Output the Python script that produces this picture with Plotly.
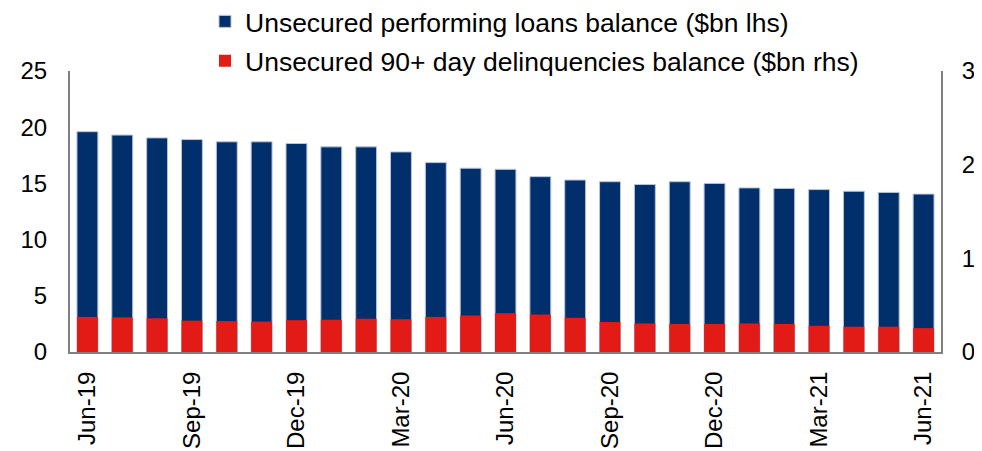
import plotly.graph_objects as go

months = ["Jun-19", "Jul-19", "Aug-19", "Sep-19", "Oct-19", "Nov-19", "Dec-19",
          "Jan-20", "Feb-20", "Mar-20", "Apr-20", "May-20", "Jun-20", "Jul-20",
          "Aug-20", "Sep-20", "Oct-20", "Nov-20", "Dec-20", "Jan-21", "Feb-21",
          "Mar-21", "Apr-21", "May-21", "Jun-21"]

# $bn, left axis
performing = [19.6, 19.3, 19.05, 18.9, 18.7, 18.7, 18.55, 18.25, 18.25, 17.8,
              16.85, 16.35, 16.25, 15.6, 15.3, 15.15, 14.9, 15.15, 15.0, 14.6,
              14.55, 14.45, 14.3, 14.2, 14.05]
# $bn, right axis
delinquent = [0.375, 0.37, 0.36, 0.335, 0.33, 0.325, 0.34, 0.345, 0.355, 0.35,
              0.375, 0.39, 0.415, 0.40, 0.365, 0.32, 0.305, 0.30, 0.30, 0.305,
              0.30, 0.28, 0.27, 0.27, 0.255]

tick_months = months[::3]

font = "Liberation Sans, Arial, sans-serif"

fig = go.Figure()
fig.add_trace(go.Bar(x=months, y=performing, name="Unsecured performing loans balance ($bn lhs)",
                     marker=dict(color="#002F6C", line=dict(color="#B8C4D8", width=1)),
                     yaxis="y", legendgroup="a"))
fig.add_trace(go.Bar(x=months, y=delinquent, name="Unsecured 90+ day delinquencies balance ($bn rhs)",
                     marker=dict(color="#E31B17", line=dict(width=0)),
                     yaxis="y2", legendgroup="b"))

# page has an 8px body margin, so margins are offset by that
fig.update_layout(
    width=982, height=451,
    margin=dict(l=62, r=49, t=63, b=107, autoexpand=False),
    plot_bgcolor="white", paper_bgcolor="white",
    barmode="overlay", bargap=0.4,
    font=dict(family=font, size=24, color="black"),
    showlegend=True,
    legend=dict(x=0.155, y=1.261, xanchor="left", yanchor="top",
                orientation="v", font=dict(size=26.5), bgcolor="rgba(0,0,0,0)",
                itemwidth=30, tracegroupgap=2),
    xaxis=dict(type="category", tickmode="array", tickvals=tick_months, ticktext=tick_months,
               tickangle=-90, showline=True, linecolor="#808080", linewidth=2,
               showgrid=False, ticks="", tickfont=dict(size=24), ticklabelstandoff=8),
    yaxis=dict(range=[0, 25], dtick=5, showline=True, linecolor="#808080", linewidth=2,
               showgrid=False, zeroline=False, ticks="", ticklabelstandoff=16),
    yaxis2=dict(range=[0, 3], dtick=1, overlaying="y", side="right", showline=True,
                linecolor="#808080", linewidth=2, showgrid=False, zeroline=False,
                ticks="", ticklabelstandoff=14),
)

fig.write_html("out.html")
